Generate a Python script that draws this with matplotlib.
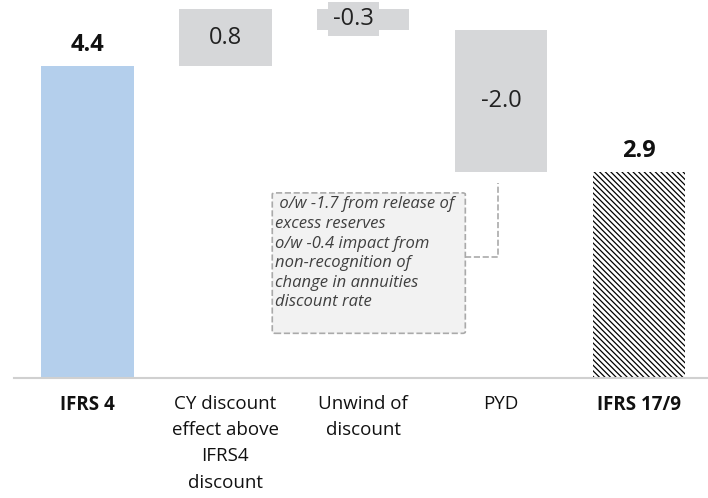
import matplotlib.pyplot as plt
from matplotlib.patches import FancyBboxPatch

# data
categories = ['IFRS 4', 'CY discount\neffect above\nIFRS4\ndiscount', 'Unwind of\ndiscount', 'PYD', 'IFRS 17/9']
steps = [4.4, 0.8, -0.3, -2.0, 2.9]
kinds = ['total', 'delta', 'delta', 'delta', 'total']
note = ' o/w -1.7 from release of\nexcess reserves\no/w -0.4 impact from\nnon-recognition of\nchange in annuities\ndiscount rate'

plt.rcParams['font.family'] = ['Open Sans', 'DejaVu Sans']
plt.rcParams['hatch.linewidth'] = 0.9

fig = plt.figure(figsize=(7.08, 4.98), dpi=100)
ax = fig.add_axes([14 / 708, 1 - 378 / 498, 694 / 708, 378 / 498])

blue = '#b4cfec'
grey = '#d6d7d9'
w = 0.67

running = 0
for i, (v, k) in enumerate(zip(steps, kinds)):
    if k == 'total':
        if i == 0:
            ax.bar(i, v, width=w, color=blue, zorder=2)
        else:
            ax.bar(i, v, width=w, facecolor='white', edgecolor='black',
                   hatch='\\' * 6, linewidth=0, zorder=2)
        ax.text(i, v + 0.3, f'{v:.1f}', ha='center', va='center',
                fontsize=17, fontweight='bold', color='#111111')
        running = v
    else:
        bottom = running + min(v, 0)
        ax.bar(i, abs(v), bottom=bottom, width=w, color=grey, zorder=2)
        if abs(v) >= 0.5:
            ax.text(i, bottom + abs(v) / 2, f'{v:.1f}', ha='center', va='center',
                    fontsize=17, color='#222222', zorder=3)
        else:
            ax.text(i - 0.07, running - 0.14, f'{v:.1f}', ha='center', va='center',
                    fontsize=17, color='#222222', zorder=3,
                    bbox=dict(facecolor=grey, edgecolor='none', pad=3.5))
        running += v

ax.set_xlim(-0.533, 4.5)
ax.set_ylim(0, 5.33)
for s in ['top', 'right', 'left']:
    ax.spines[s].set_visible(False)
ax.spines['bottom'].set_color('#d0d0d0')
ax.spines['bottom'].set_linewidth(1.5)
ax.set_yticks([])
ax.set_xticks(range(len(categories)))
ax.set_xticklabels(categories, fontsize=13.5, color='#111111', linespacing=1.6)
ax.tick_params(axis='x', length=0, pad=12)
for i, lab in enumerate(ax.get_xticklabels()):
    if kinds[i] == 'total':
        lab.set_fontweight('bold')

# callout box for PYD
box = FancyBboxPatch((1.34, 0.63), 1.40, 1.98, boxstyle='round,pad=0,rounding_size=0.02',
                     facecolor='#f2f2f2', edgecolor='#aaaaaa', linestyle='--',
                     linewidth=1.2, zorder=3)
ax.add_patch(box)
ax.text(1.36, 2.56, note, ha='left', va='top', fontsize=12, style='italic',
        color='#404040', linespacing=1.3, zorder=4)
ax.plot([2.74, 2.98, 2.98], [1.7, 1.7, 2.75], color='#aaaaaa', linestyle='--',
        linewidth=1.2, zorder=3)

fig.savefig('out.png', dpi=100)
